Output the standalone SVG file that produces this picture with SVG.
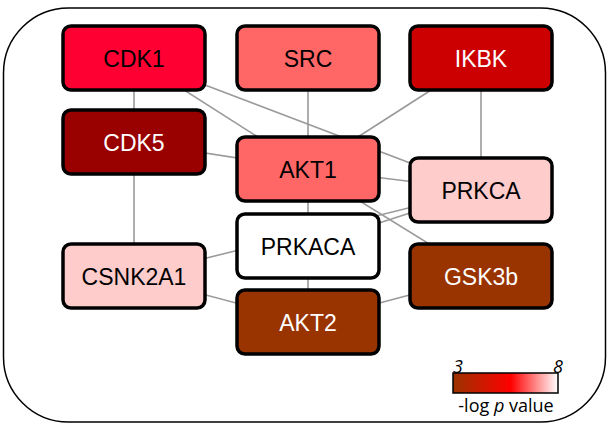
<svg xmlns="http://www.w3.org/2000/svg" width="608" height="427" viewBox="0 0 608 427">
<defs>
<linearGradient id="lg" x1="0" x2="1" y1="0" y2="0">
<stop offset="0" stop-color="#993300"/>
<stop offset="0.55" stop-color="#ff0000"/>
<stop offset="1" stop-color="#ffffff"/>
</linearGradient>
<style>
.n rect{stroke:#000;stroke-width:3.5}
.n text{font-family:"Liberation Sans",Arial,sans-serif;font-size:23px;text-anchor:middle}
.d{fill:#000}.w{fill:#fff}
#edges line{stroke:#9a9a9a;stroke-width:1.6}
.lg{font-family:"Open Sans","Liberation Sans",sans-serif;font-size:18px}
</style>
</defs>
<rect x="3.5" y="8" width="602" height="414" rx="65" fill="#fff" stroke="#000" stroke-width="1.5"/>
<g id="edges">
<line x1="134" y1="58" x2="134" y2="142"/>
<line x1="134" y1="58" x2="308" y2="169"/>
<line x1="134" y1="58" x2="481" y2="190"/>
<line x1="308" y1="58" x2="308" y2="169"/>
<line x1="481" y1="58" x2="308" y2="169"/>
<line x1="481" y1="58" x2="481" y2="190"/>
<line x1="134" y1="142" x2="308" y2="169"/>
<line x1="134" y1="142" x2="134" y2="276"/>
<line x1="308" y1="169" x2="481" y2="190"/>
<line x1="308" y1="169" x2="308" y2="246"/>
<line x1="308" y1="169" x2="481" y2="276"/>
<line x1="308" y1="246" x2="481" y2="190"/>
<line x1="134" y1="276" x2="481" y2="190"/>
<line x1="308" y1="246" x2="308" y2="322"/>
<line x1="134" y1="276" x2="308" y2="322"/>
<line x1="308" y1="322" x2="481" y2="276"/>
</g>
<g id="CDK1" class="n"><rect x="63" y="26" width="142" height="64" rx="8" fill="#ff0033"/><text x="134" y="66.5" class="d">CDK1</text></g>
<g id="SRC" class="n"><rect x="237" y="26" width="142" height="64" rx="8" fill="#ff6666"/><text x="308" y="66.5" class="d">SRC</text></g>
<g id="IKBK" class="n"><rect x="410" y="26" width="142" height="64" rx="8" fill="#cc0000"/><text x="481" y="66.5" class="w">IKBK</text></g>
<g id="CDK5" class="n"><rect x="63" y="110" width="142" height="64" rx="8" fill="#990000"/><text x="134" y="150.5" class="w">CDK5</text></g>
<g id="AKT1" class="n"><rect x="237" y="137" width="142" height="64" rx="8" fill="#ff6666"/><text x="308" y="177.5" class="d">AKT1</text></g>
<g id="PRKCA" class="n"><rect x="410" y="158" width="142" height="64" rx="8" fill="#ffcccc"/><text x="481" y="198.5" class="d">PRKCA</text></g>
<g id="PRKACA" class="n"><rect x="237" y="214" width="142" height="64" rx="8" fill="#ffffff"/><text x="308" y="254.5" class="d">PRKACA</text></g>
<g id="CSNK2A1" class="n"><rect x="63" y="244" width="142" height="64" rx="8" fill="#ffcccc"/><text x="134" y="285" class="d">CSNK2A1</text></g>
<g id="GSK3b" class="n"><rect x="410" y="244" width="142" height="64" rx="8" fill="#993300"/><text x="481" y="285" class="w">GSK3b</text></g>
<g id="AKT2" class="n"><rect x="237" y="290" width="142" height="64" rx="8" fill="#993300"/><text x="308" y="330.5" class="w">AKT2</text></g>
<g id="legend">
<rect x="453" y="373" width="105" height="20" fill="url(#lg)" stroke="#000" stroke-width="1.5"/>
<text x="453" y="373" class="lg" font-style="italic">3</text>
<text x="563" y="373" class="lg" font-style="italic" text-anchor="end">8</text>
<text x="506" y="412" class="lg" text-anchor="middle">-log <tspan font-style="italic">p</tspan> value</text>
</g>
</svg>
